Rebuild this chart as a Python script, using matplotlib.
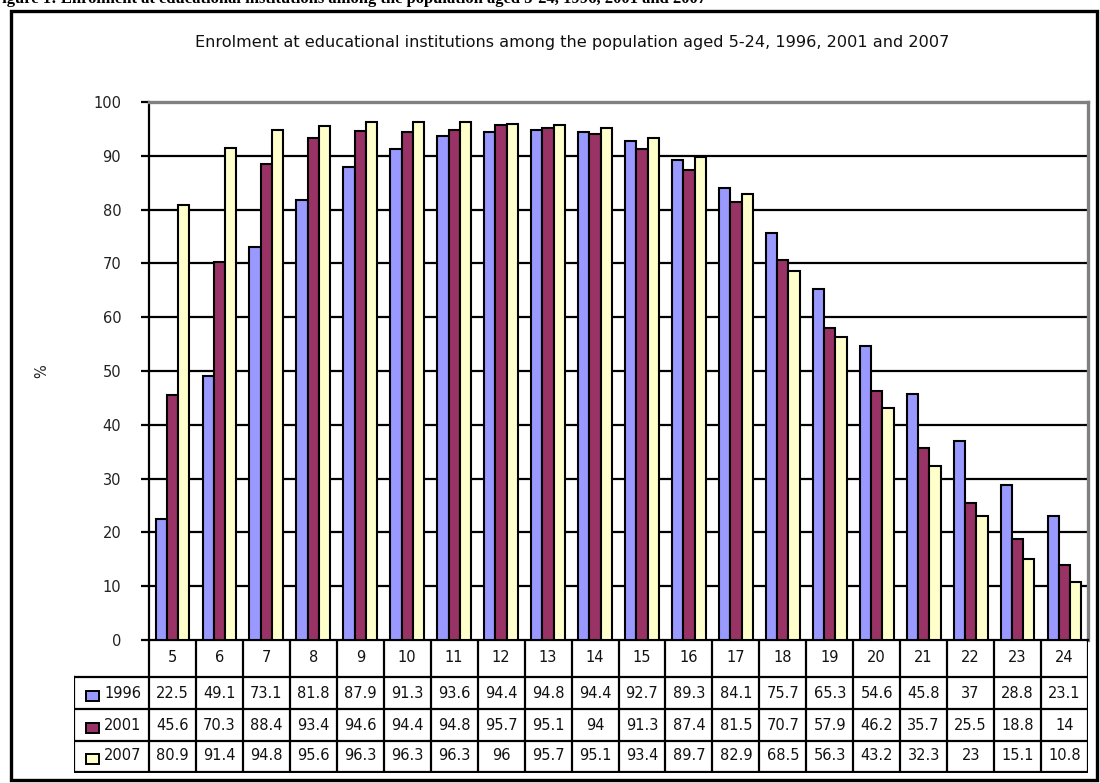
import matplotlib
matplotlib.use("Agg")
import matplotlib.pyplot as plt
from matplotlib.patches import Rectangle
import numpy as np

plt.rcParams['font.family'] = ['DejaVu Sans']

ages = ['5', '6', '7', '8', '9', '10', '11', '12', '13', '14',
        '15', '16', '17', '18', '19', '20', '21', '22', '23', '24']
years = ['1996', '2001', '2007']
enrol_1996 = [22.5, 49.1, 73.1, 81.8, 87.9, 91.3, 93.6, 94.4, 94.8, 94.4,
              92.7, 89.3, 84.1, 75.7, 65.3, 54.6, 45.8, 37, 28.8, 23.1]
enrol_2001 = [45.6, 70.3, 88.4, 93.4, 94.6, 94.4, 94.8, 95.7, 95.1, 94,
              91.3, 87.4, 81.5, 70.7, 57.9, 46.2, 35.7, 25.5, 18.8, 14]
enrol_2007 = [80.9, 91.4, 94.8, 95.6, 96.3, 96.3, 96.3, 96, 95.7, 95.1,
              93.4, 89.7, 82.9, 68.5, 56.3, 43.2, 32.3, 23, 15.1, 10.8]
yticks = [0, 10, 20, 30, 40, 50, 60, 70, 80, 90, 100]

series = [enrol_1996, enrol_2001, enrol_2007]
colors = ['#9999FF', '#993366', '#FFFFCC']

W, H = 1100, 783
fig = plt.figure(figsize=(W / 100, H / 100), dpi=100)
fig.patch.set_facecolor('white')
FS = 10.5
TXT = '#111111'


def px_rect(x0, y0, x1, y1):
    # convert pixel box (top-left origin) to figure fraction
    return [x0 / W, 1 - y1 / H, (x1 - x0) / W, (y1 - y0) / H]


# caption running off the top edge of the page
fig.text(-8 / W, 1 - 3 / H,
         'Figure 1: Enrolment at educational institutions among the population aged 5-24, 1996, 2001 and 2007',
         family='Liberation Serif', fontweight='bold', fontsize=12,
         ha='left', va='baseline')

# outer chart frame
fig.patches.append(Rectangle((10.5 / W, 1 - 779.5 / H), 1086 / W, 769 / H,
                             transform=fig.transFigure, fill=False,
                             edgecolor='black', linewidth=2.4, zorder=0))

fig.text(572 / W, 1 - 42 / H,
         'Enrolment at educational institutions among the population aged 5-24, 1996, 2001 and 2007',
         fontsize=11.6, color=TXT, ha='center', va='center')

PL, PR, PT, PB = 149, 1088, 102, 640
ax = fig.add_axes(px_rect(PL, PT, PR, PB))
n = len(ages)
x = np.arange(n)
bw = 0.24
for i, (vals, c) in enumerate(zip(series, colors)):
    ax.bar(x + (i - 1) * bw, vals, width=bw, color=c, edgecolor='black',
           linewidth=1.5, zorder=3)

ax.set_xlim(-0.5, n - 0.5)
ax.set_ylim(0, 100)
ax.set_yticks(yticks)
ax.set_yticklabels([str(t) for t in yticks], fontsize=FS, color='#222222')
ax.set_xticks([])
for yv in yticks[1:-1]:
    ax.axhline(yv, color='black', linewidth=1.6, zorder=1)
ax.spines['top'].set_color('#808080')
ax.spines['right'].set_color('#808080')
ax.spines['top'].set_linewidth(2.4)
ax.spines['right'].set_linewidth(2.4)
ax.spines['left'].set_linewidth(1.6)
ax.spines['bottom'].set_linewidth(1.6)
ax.tick_params(axis='y', length=6, width=1.6, pad=14)
ax.set_ylabel('%', fontsize=FS, labelpad=32, color='#222222')

# data table under the plot, sharing the category scale
unit = (PR - PL) / n
legend_w = (PL - 74) / unit
x_left = -0.5 - legend_w


def px_to_x(px):
    return x_left + (px - 74) / unit


tab = fig.add_axes(px_rect(74, PB, PR, 773))
tab.set_xlim(x_left, n - 0.5)
tab.set_ylim(773, PB)
tab.axis('off')
lw = 1.6
row_lines = [677, 709, 741, 772]
row_centers = [658, 693, 725, 756]
for k in range(n + 1):
    tab.plot([k - 0.5, k - 0.5], [PB, 772], color='black', lw=lw,
             solid_capstyle='projecting')
tab.plot([x_left] * 2, [677, 772], color='black', lw=lw,
         solid_capstyle='projecting')
for yl in row_lines:
    tab.plot([x_left, n - 0.5], [yl, yl], color='black', lw=lw,
             solid_capstyle='projecting')

for k, a in enumerate(ages):
    tab.text(k, row_centers[0], a, ha='center', va='center', fontsize=FS,
             color=TXT)
for r, (yr, vals, c) in enumerate(zip(years, series, colors)):
    yc = row_centers[r + 1]
    tab.text(px_to_x(123), yc, yr, ha='center', va='center', fontsize=FS,
             color=TXT)
    tab.add_patch(Rectangle((px_to_x(86), yc - 2), 13 / unit, 10,
                            facecolor=c, edgecolor='black', lw=1.4))
    for k, v in enumerate(vals):
        tab.text(k, yc, f'{v:g}', ha='center', va='center', fontsize=FS,
                 color=TXT)

fig.savefig('out.png', dpi=100)
